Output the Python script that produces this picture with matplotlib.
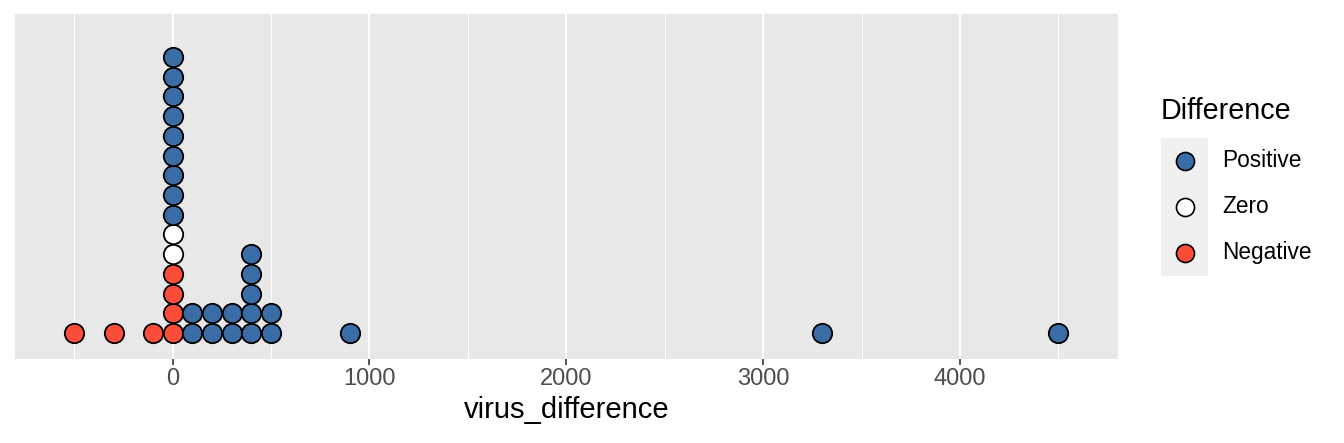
import matplotlib
matplotlib.use("Agg")
import matplotlib.pyplot as plt
from matplotlib.lines import Line2D
from matplotlib.patches import Rectangle
from collections import defaultdict

plt.rcParams['font.family'] = ['Liberation Sans', 'DejaVu Sans']

# dot values (binned, binwidth ~100), stacked in this order
negative_vals = [-500, -300, -100, 0, 0, 0, 0]
zero_vals = [0, 0]
positive_vals = [0] * 9 + [100, 100, 200, 200, 300, 300, 400, 400, 400, 400, 400,
                           500, 500, 900, 3300, 4500]

categories = ["Positive", "Zero", "Negative"]
colors = {"Positive": "#3A6DA6", "Zero": "#FFFFFF", "Negative": "#FC4C3A"}
x_ticks = [0, 1000, 2000, 3000, 4000]
x_minor = [-500, 500, 1500, 2500, 3500, 4500]

W, H = 1344, 443
fig = plt.figure(figsize=(W / 100, H / 100), dpi=100)

# panel in pixel coordinates
L, R, T, B = 15, 1118, 14, 359
ax = fig.add_axes([L / W, 1 - B / H, (R - L) / W, (B - T) / H])
ax.set_facecolor("#E8E8E8")
for s in ax.spines.values():
    s.set_visible(False)

# stack the dots
height = defaultdict(int)
for cat, vals in [("Negative", negative_vals), ("Zero", zero_vals), ("Positive", positive_vals)]:
    xs, ys = [], []
    for v in vals:
        xs.append(v)
        ys.append(height[v])
        height[v] += 1
    ax.scatter(xs, ys, s=195, c=colors[cat], edgecolors="black", linewidths=1.3, zorder=3)

ax.set_xlim(-801, 4803)
ax.set_ylim(-1.32, 16.18)

ax.set_xticks(x_ticks)
ax.set_xticklabels([str(t) for t in x_ticks])
ax.set_xticks(x_minor, minor=True)
ax.set_yticks([])
ax.grid(True, which="major", axis="x", color="white", linewidth=1.45, zorder=0)
ax.grid(True, which="minor", axis="x", color="white", linewidth=0.75, zorder=0)
ax.set_axisbelow(True)
ax.tick_params(axis="x", which="major", length=4.3, width=1.2, color="#333333",
               labelsize=17, labelcolor="#4D4D4D", pad=2.5)
ax.tick_params(axis="x", which="minor", length=0)
ax.set_xlabel("virus_difference", fontsize=21, color="black", labelpad=4)

# legend drawn by hand
fig.text(1161 / W, 1 - 111 / H, "Difference", fontsize=20.7, va="center", ha="left")
key_top = 138
key_h = 46
for i, cat in enumerate(categories):
    y0 = key_top + i * key_h
    fig.patches.append(Rectangle((1161 / W, 1 - (y0 + key_h) / H), 47 / W, key_h / H,
                                 transform=fig.transFigure, facecolor="#F0F0F0",
                                 edgecolor="none"))
    yc = 1 - (y0 + key_h / 2) / H
    fig.lines.append(Line2D([1184.5 / W], [yc], transform=fig.transFigure, marker="o",
                            markersize=13, markerfacecolor=colors[cat],
                            markeredgecolor="black", markeredgewidth=1.2, linestyle="none"))
    fig.text(1222 / W, yc, cat, fontsize=16.3, va="center", ha="left")

fig.savefig("out.png", dpi=100)
